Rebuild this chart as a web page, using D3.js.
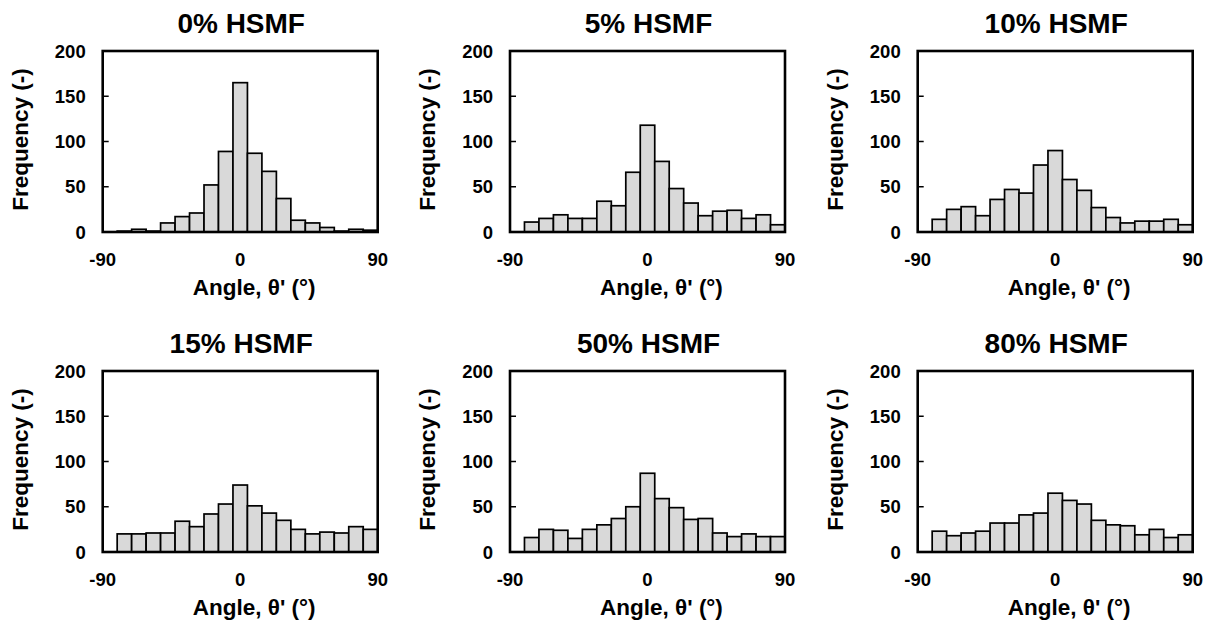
<!DOCTYPE html>
<meta charset="utf-8">
<style>
body { margin: 0; background: #fff; }
text { font-family: "Liberation Sans", Arial, sans-serif; font-weight: bold; fill: #000; }
</style>
<body>
<script src="https://d3js.org/d3.v7.min.js"></script>
<script>
// bin categories (deg); the -90 slot is left empty like in the original
var bins = [-80, -70, -60, -50, -40, -30, -20, -10, 0, 10, 20, 30, 40, 50, 60, 70, 80, 90];
var slots = [-90].concat(bins);

var titles = ["0% HSMF", "5% HSMF", "10% HSMF", "15% HSMF", "50% HSMF", "80% HSMF"];

var hsmf0  = [1, 3, 1, 10, 17, 21, 52, 89, 165, 87, 67, 37, 13, 10, 5, 1, 3, 2];
var hsmf5  = [11, 15, 19, 15, 15, 34, 29, 66, 118, 78, 48, 32, 18, 23, 24, 15, 19, 8];
var hsmf10 = [14, 25, 28, 18, 36, 47, 43, 74, 90, 58, 46, 27, 16, 10, 12, 12, 14, 8];
var hsmf15 = [20, 20, 21, 21, 34, 28, 42, 53, 74, 51, 43, 35, 25, 20, 22, 21, 28, 25];
var hsmf50 = [16, 25, 24, 15, 25, 30, 37, 50, 87, 59, 49, 36, 37, 21, 17, 20, 17, 17];
var hsmf80 = [23, 18, 21, 23, 32, 32, 41, 43, 65, 57, 53, 35, 30, 29, 19, 25, 16, 19];

var series = [hsmf0, hsmf5, hsmf10, hsmf15, hsmf50, hsmf80];

var yTicks = [0, 50, 100, 150, 200];
var xTicks = [-90, 0, 90];

var width = 1212, height = 622;
var svg = d3.select("body").append("svg")
    .attr("width", width)
    .attr("height", height);

var colLeft = [102.7, 510, 917.7],
    rowTop = [51, 371],
    pw = 275, ph = 181;

series.forEach(function(vals, i) {
  var x0 = colLeft[i % 3], y0 = rowTop[Math.floor(i / 3)];
  var g = svg.append("g").attr("transform", "translate(" + x0 + "," + y0 + ")");

  var x = d3.scaleBand().domain(slots).range([0, pw]).padding(0);
  var xLab = d3.scaleLinear().domain([-90, 90]).range([0, pw]);
  var y = d3.scaleLinear().domain([0, 200]).range([ph, 0]);

  g.selectAll("rect.bar")
    .data(vals)
    .enter().append("rect")
    .attr("class", "bar")
    .attr("x", function(d, j) { return x(bins[j]); })
    .attr("width", x.bandwidth())
    .attr("y", function(d) { return y(d); })
    .attr("height", function(d) { return ph - y(d); })
    .attr("fill", "#d9d9d9")
    .attr("stroke", "#000")
    .attr("stroke-width", 1.7);

  // frame
  g.append("rect")
    .attr("width", pw).attr("height", ph)
    .attr("fill", "none").attr("stroke", "#000").attr("stroke-width", 2.6);

  // inward y ticks
  g.selectAll("line.yt")
    .data(yTicks.slice(1, -1))
    .enter().append("line")
    .attr("x1", 0).attr("x2", 6)
    .attr("y1", function(d) { return y(d); })
    .attr("y2", function(d) { return y(d); })
    .attr("stroke", "#000").attr("stroke-width", 1.5);

  g.selectAll("text.yl")
    .data(yTicks)
    .enter().append("text")
    .attr("x", -17)
    .attr("y", function(d) { return y(d); })
    .attr("dy", "0.36em")
    .attr("text-anchor", "end")
    .style("font-size", "18.5px")
    .text(function(d) { return d; });

  g.selectAll("text.xl")
    .data(xTicks)
    .enter().append("text")
    .attr("x", function(d) { return xLab(d); })
    .attr("y", ph + 34)
    .attr("text-anchor", "middle")
    .style("font-size", "18.5px")
    .text(function(d) { return d; });

  g.append("text")
    .attr("x", pw / 2 + 1)
    .attr("y", -18)
    .attr("text-anchor", "middle")
    .style("font-size", "28px")
    .text(titles[i]);

  g.append("text")
    .attr("x", pw / 2 + 14)
    .attr("y", ph + 63)
    .attr("text-anchor", "middle")
    .style("font-size", "22.5px")
    .text("Angle, \u03b8' (\u00b0)");

  g.append("text")
    .attr("transform", "translate(-75," + (ph / 2 - 2) + ") rotate(-90)")
    .attr("text-anchor", "middle")
    .style("font-size", "22.5px")
    .text("Frequency (-)");
});
</script>
</body>
